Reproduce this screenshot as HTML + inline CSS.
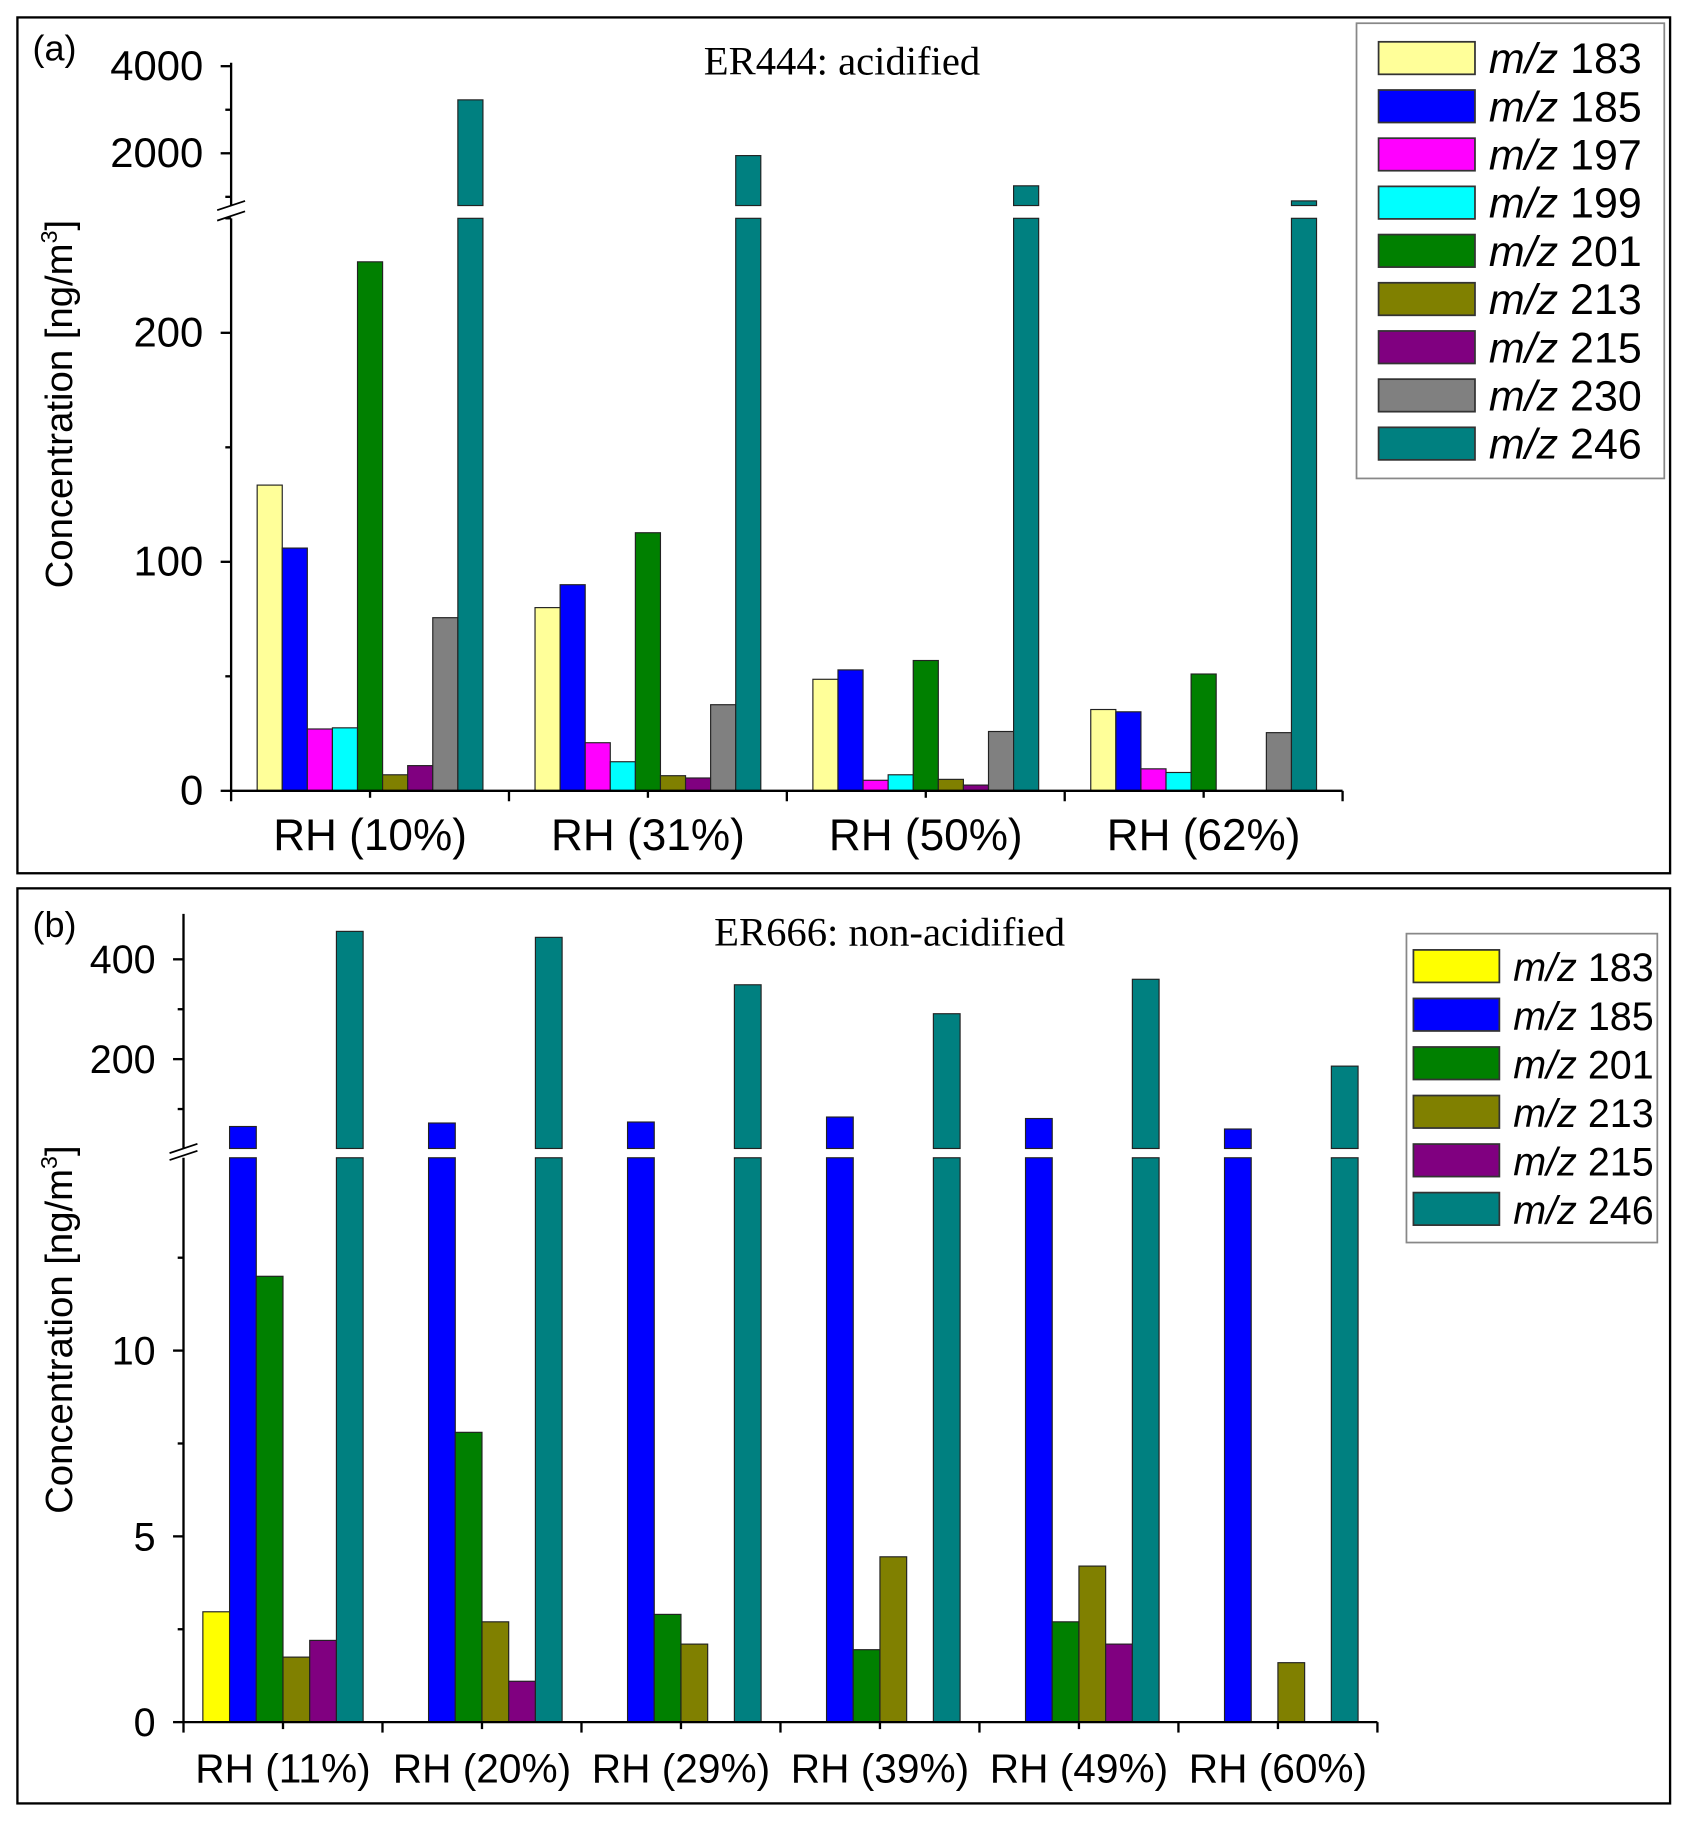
<!DOCTYPE html>
<html><head><meta charset="utf-8"><style>
html,body{margin:0;padding:0;background:#fff}
svg{display:block}
text{font-family:"Liberation Sans",sans-serif}
.serif{font-family:"Liberation Serif",serif}
</style></head><body>
<svg id="fig" width="1691" height="1822" viewBox="0 0 1456 1569" preserveAspectRatio="none" xmlns="http://www.w3.org/2000/svg">
<rect x="15" y="15" width="1423" height="737" fill="none" stroke="#000" stroke-width="2"/>
<rect x="15" y="765" width="1423" height="788" fill="none" stroke="#000" stroke-width="2"/>
<g id="ga"></g>
<g id="gb"></g>
</svg>
<script>
// Panel A data
const catsA = ["RH (10%)","RH (31%)","RH (50%)","RH (62%)"];
const seriesA = ["183","185","197","199","201","213","215","230","246"];
const colorsA = ["#ffff99","#0000ff","#ff00ff","#00ffff","#008000","#808000","#800080","#808080","#008080"];
const valsA183 = [133.5,80,48.7,35.5];
const valsA185 = [106,90,52.8,34.5];
const valsA197 = [27,21,4.6,9.6];
const valsA199 = [27.5,12.7,7,8];
const valsA201 = [231,112.7,56.9,51];
const valsA213 = [7,6.6,5,0];
const valsA215 = [11,5.6,2.5,0];
const valsA230 = [75.6,37.6,25.9,25.4];
const valsA246 = [3227,1947,1253,907];
const ticksALow = [0,100,200];
const ticksAHigh = [2000,4000];
// Panel B data
const catsB = ["RH (11%)","RH (20%)","RH (29%)","RH (39%)","RH (49%)","RH (60%)"];
const seriesB = ["183","185","201","213","215","246"];
const colorsB = ["#ffff00","#0000ff","#008000","#808000","#800080","#008080"];
const valsB183 = [2.97,0,0,0,0,0];
const valsB185 = [65,72,74,84,81,60];
const valsB201 = [12,7.8,2.9,1.95,2.7,0];
const valsB213 = [1.75,2.7,2.1,4.45,4.2,1.6];
const valsB215 = [2.2,1.1,0,0,2.1,0];
const valsB246 = [456,444,349,291,360,186];
const ticksBLow = [0,5,10];
const ticksBHigh = [200,400];

const NS="http://www.w3.org/2000/svg";
function mk(parent,tag,attrs,txt){const e=document.createElementNS(NS,tag);for(const k in attrs)e.setAttribute(k,attrs[k]);if(txt!==undefined)e.textContent=txt;parent.appendChild(e);return e;}

function drawPanel(g,cfg){
  const {cats,series,colors,vals,x0,x1,low,high,ticksLow,ticksHigh,minorLow,minorHigh,title,titleX,titleY,letter,letterY,legend,xlabY,ytitleY,fontTick,fontX}=cfg;
  const yLow=v=>low.y0-(v-low.v0)*(low.y0-low.y1)/(low.v1-low.v0);
  const yHigh=v=>high.y0-(v-high.v0)*(high.y0-high.y1)/(high.v1-high.v0);
  const gw=(x1-x0)/cats.length;
  const bw=cfg.barW;
  const pad=(gw-series.length*bw)/2;
  cats.forEach((c,i)=>{
    series.forEach((s,j)=>{
      const v=vals[j][i];
      if(!v) return;
      const bx=x0+i*gw+pad+j*bw;
      if(v<=low.v1){
        const r=mk(g,'rect',{x:bx,y:yLow(v),width:bw,height:low.y0-yLow(v),fill:colors[j],stroke:'#222','stroke-width':1});
        
        
      } else {
        const r1=mk(g,'rect',{x:bx,y:low.y1,width:bw,height:low.y0-low.y1,fill:colors[j],stroke:'#222','stroke-width':1});
        
        
        const yy=yHigh(Math.min(v,high.v1));
        const r2=mk(g,'rect',{x:bx,y:yy,width:bw,height:high.y0-yy,fill:colors[j],stroke:'#222','stroke-width':1});
        
        
      }
    });
    const t=mk(g,'text',{x:x0+i*gw+gw/2,y:xlabY,'text-anchor':'middle','font-size':fontX},c);
    
    
  });
  mk(g,'path',{d:`M${x0} ${low.y0}V${low.y1}M${x0} ${high.y0}V${high.top}`,stroke:'#000','stroke-width':2,fill:'none'});
  mk(g,'path',{d:`M${x0-12} ${low.y1+2}L${x0+12} ${low.y1-6}M${x0-12} ${high.y0+4}L${x0+12} ${high.y0-4}`,stroke:'#000','stroke-width':1.5,fill:'none'});
  mk(g,'line',{x1:x0,y1:low.y0,x2:x1,y2:low.y0,stroke:'#000','stroke-width':2});
  for(let i=0;i<=cats.length;i++) mk(g,'line',{x1:x0+i*gw,y1:low.y0,x2:x0+i*gw,y2:low.y0+9,stroke:'#000','stroke-width':2});
  for(let i=0;i<cats.length;i++) mk(g,'line',{x1:x0+i*gw+gw/2,y1:low.y0,x2:x0+i*gw+gw/2,y2:low.y0+6,stroke:'#000','stroke-width':2});
  ticksLow.forEach(v=>{mk(g,'line',{x1:x0-9,y1:yLow(v),x2:x0,y2:yLow(v),stroke:'#000','stroke-width':2});
    const t=mk(g,'text',{x:x0-24,y:yLow(v)+12,'text-anchor':'end','font-size':fontTick},String(v));
    });
  minorLow.forEach(v=>mk(g,'line',{x1:x0-5,y1:yLow(v),x2:x0,y2:yLow(v),stroke:'#000','stroke-width':2}));
  ticksHigh.forEach(v=>{mk(g,'line',{x1:x0-9,y1:yHigh(v),x2:x0,y2:yHigh(v),stroke:'#000','stroke-width':2});
    const t=mk(g,'text',{x:x0-24,y:yHigh(v)+12,'text-anchor':'end','font-size':fontTick},String(v));
    });
  minorHigh.forEach(v=>mk(g,'line',{x1:x0-5,y1:yHigh(v),x2:x0,y2:yHigh(v),stroke:'#000','stroke-width':2}));
  const tt=mk(g,'text',{x:titleX,y:titleY,'text-anchor':'middle','font-size':35,class:'serif'},title);
  
  const lt=mk(g,'text',{x:28,y:letterY,'font-size':31},letter);
  
  const yt=mk(g,'text',{transform:`translate(62 ${ytitleY}) rotate(-90)`,'text-anchor':'middle','font-size':33},'Concentration [ng/m');
  mk(yt,'tspan',{'font-size':20,dy:-13},'3');
  mk(yt,'tspan',{dy:13},']');
  
  const lg=mk(g,'g',{});
  
  mk(lg,'rect',{x:legend.x,y:legend.y,width:legend.w,height:legend.h,fill:'#fff',stroke:'#888','stroke-width':1.5});
  series.forEach((s,j)=>{
    const cy=legend.y0+j*legend.dy;
    const e=mk(lg,'g',{});
    
    mk(e,'rect',{x:legend.sx,y:cy-14,width:legend.sw,height:28,fill:colors[j],stroke:'#333','stroke-width':1.5});
    const t=mk(e,'text',{x:legend.tx,y:cy+13,'font-size':legend.fs});
    mk(t,'tspan',{'font-style':'italic'},'m/z');
    mk(t,'tspan',{},' '+s);
  });
}
drawPanel(document.getElementById('ga'),{
  cats:catsA,series:seriesA,colors:colorsA,
  vals:[valsA183,valsA185,valsA197,valsA199,valsA201,valsA213,valsA215,valsA230,valsA246],
  x0:199,x1:1156,barW:21.6,
  low:{v0:0,v1:250,y0:681,y1:188},
  high:{v0:800,v1:4000,y0:177,y1:57,top:54},
  ticksLow:ticksALow,ticksHigh:ticksAHigh,minorLow:[50,150,250],minorHigh:[3000,1000],
  title:'ER444: acidified',titleX:725,titleY:64,letter:'(a)',letterY:52,
  legend:{x:1168,y:20,w:265,h:392,y0:50,dy:41.5,sx:1187,sw:83,tx:1282,fs:37},
  xlabY:732,ytitleY:348,fontTick:36,fontX:38
});
drawPanel(document.getElementById('gb'),{
  cats:catsB,series:seriesB,colors:colorsB,
  vals:[valsB183,valsB185,valsB201,valsB213,valsB215,valsB246],
  x0:158,x1:1186,barW:23,
  low:{v0:0,v1:15.19,y0:1483,y1:997},
  high:{v0:21,v1:491,y0:989,y1:787,top:787},
  ticksLow:ticksBLow,ticksHigh:ticksBHigh,minorLow:[2.5,7.5,12.5],minorHigh:[300,100],
  title:'ER666: non-acidified',titleX:766,titleY:814,letter:'(b)',letterY:807,
  legend:{x:1211,y:804,w:216,h:266,y0:832,dy:41.8,sx:1217,sw:74,tx:1303,fs:34},
  xlabY:1535,ytitleY:1145,fontTick:34,fontX:35
});
</script>
</body></html>
